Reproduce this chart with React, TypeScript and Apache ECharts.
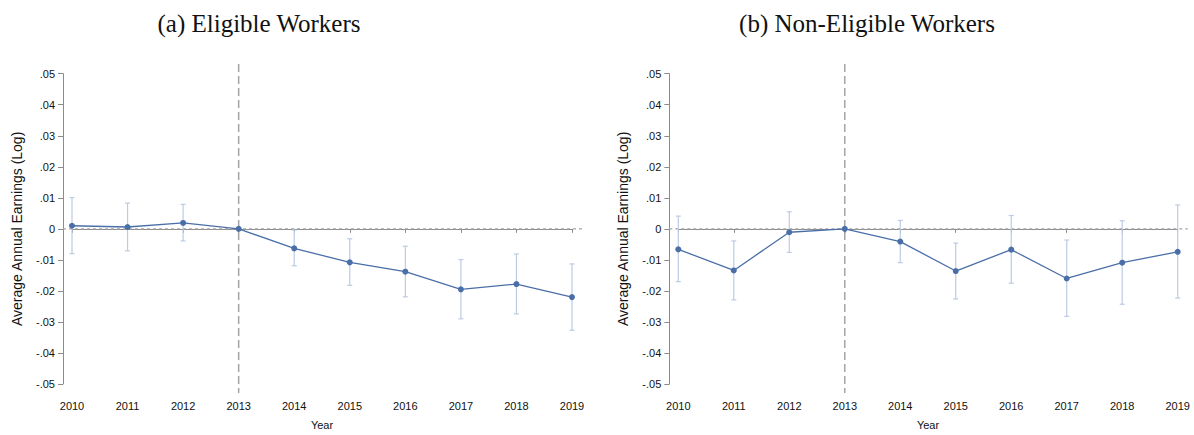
import React, { useEffect, useRef } from "react";
import * as echarts from "echarts";

// Event-study estimates, relative to 2013
const years = [2010, 2011, 2012, 2013, 2014, 2015, 2016, 2017, 2018, 2019];

const eligibleCoef = [0.001, 0.0006, 0.0019, 0, -0.0063, -0.0108, -0.0138, -0.0195, -0.0178, -0.022];
const eligibleLow = [-0.008, -0.0071, -0.0039, null, -0.0119, -0.0182, -0.0219, -0.029, -0.0274, -0.0327];
const eligibleHigh = [0.0101, 0.0083, 0.0079, null, -0.0004, -0.0032, -0.0056, -0.0099, -0.0081, -0.0113];

const nonEligibleCoef = [-0.0066, -0.0134, -0.0011, 0, -0.0041, -0.0136, -0.0067, -0.016, -0.0109, -0.0074];
const nonEligibleLow = [-0.017, -0.0229, -0.0076, null, -0.0109, -0.0226, -0.0175, -0.0282, -0.0243, -0.0223];
const nonEligibleHigh = [0.0041, -0.0039, 0.0055, null, 0.0027, -0.0046, 0.0043, -0.0036, 0.0026, 0.0077];

const panelTitles = ["(a) Eligible Workers", "(b) Non-Eligible Workers"];
const treatmentYear = 2013;
const yTitle = "Average Annual Earnings (Log)";
const xTitle = "Year";

const LINE_COLOR = "#4a6fa8";
const CI_COLOR = "#bccbe3";
const REF_COLOR = "#a4a4a4";
const AXIS_COLOR = "#8c8c8c";
const SANS = "'Liberation Sans', Arial, Helvetica, sans-serif";

function fmtY(v: number): string {
  if (Math.abs(v) < 1e-9) return "0";
  const s = v.toFixed(2);
  return s.replace("0.", ".");
}

export default function App() {
  const ref = useRef<HTMLDivElement>(null);

  useEffect(() => {
    if (!ref.current) return;
    const chart = echarts.init(ref.current, null, { renderer: "svg" });

    const grids = [
      { left: 72, top: 73.7, width: 500, height: 313.3 },
      { left: 678.3, top: 73.7, width: 499.4, height: 313.3 },
    ];

    const panels = [
      { coef: eligibleCoef, low: eligibleLow, high: eligibleHigh },
      { coef: nonEligibleCoef, low: nonEligibleLow, high: nonEligibleHigh },
    ];

    const xAxes = grids.map((_, i) => ({
      type: "value",
      gridIndex: i,
      min: 2010,
      max: 2019,
      interval: 1,
      offset: 9,
      name: xTitle,
      nameLocation: "middle",
      nameGap: 26,
      nameTextStyle: { fontFamily: SANS, fontSize: 11, color: "#111" },
      axisLine: { show: true, lineStyle: { color: AXIS_COLOR, width: 1 } },
      axisTick: { show: true, length: 4, lineStyle: { color: AXIS_COLOR } },
      axisLabel: { fontFamily: SANS, fontSize: 11, color: "#111", margin: 7, formatter: (v: number) => String(v) },
      splitLine: { show: false },
    }));

    const yAxes = grids.map((_, i) => ({
      type: "value",
      gridIndex: i,
      min: -0.05,
      max: 0.05,
      interval: 0.01,
      offset: 9,
      name: yTitle,
      nameLocation: "middle",
      nameRotate: 90,
      nameGap: 39,
      nameTextStyle: { fontFamily: SANS, fontSize: 14, color: "#111" },
      axisLine: { show: true, lineStyle: { color: AXIS_COLOR, width: 1 } },
      axisTick: { show: true, length: 5, lineStyle: { color: AXIS_COLOR } },
      axisLabel: { fontFamily: SANS, fontSize: 11, color: "#111", margin: 8, formatter: fmtY },
      splitLine: { show: false },
    }));

    const series: any[] = [];
    panels.forEach((p, i) => {
      // reference lines: zero line and treatment year
      series.push({
        type: "custom",
        xAxisIndex: i,
        yAxisIndex: i,
        silent: true,
        z: 1,
        data: [[treatmentYear, 0]],
        renderItem: (params: any, api: any) => {
          const pt = api.coord([api.value(0), api.value(1)]);
          const cs = params.coordSys;
          return {
            type: "group",
            children: [
              {
                type: "line",
                shape: { x1: cs.x - 9, y1: pt[1], x2: cs.x + cs.width + 10, y2: pt[1] },
                style: { stroke: REF_COLOR, lineWidth: 1.1, lineDash: [3, 3] },
              },
              {
                type: "line",
                shape: { x1: pt[0], y1: cs.y - 9.7, x2: pt[0], y2: cs.y + cs.height + 9 },
                style: { stroke: REF_COLOR, lineWidth: 1.5, lineDash: [8, 4] },
              },
            ],
          };
        },
      });
      // confidence intervals
      series.push({
        type: "custom",
        xAxisIndex: i,
        yAxisIndex: i,
        silent: true,
        z: 2,
        encode: { x: 0, y: [1, 2] },
        data: years
          .map((yr, k) => [yr, p.low[k], p.high[k]])
          .filter((d) => d[1] !== null),
        renderItem: (_params: any, api: any) => {
          const lo = api.coord([api.value(0), api.value(1)]);
          const hi = api.coord([api.value(0), api.value(2)]);
          const half = 2.5;
          const style = { stroke: CI_COLOR, lineWidth: 1.2 };
          return {
            type: "group",
            children: [
              { type: "line", shape: { x1: lo[0], y1: lo[1], x2: hi[0], y2: hi[1] }, style },
              { type: "line", shape: { x1: lo[0] - half, y1: lo[1], x2: lo[0] + half, y2: lo[1] }, style },
              { type: "line", shape: { x1: hi[0] - half, y1: hi[1], x2: hi[0] + half, y2: hi[1] }, style },
            ],
          };
        },
      });
      // point estimates
      series.push({
        type: "line",
        xAxisIndex: i,
        yAxisIndex: i,
        z: 3,
        data: years.map((yr, k) => [yr, p.coef[k]]),
        symbol: "circle",
        symbolSize: 6,
        itemStyle: { color: LINE_COLOR },
        lineStyle: { color: LINE_COLOR, width: 1.3 },
        silent: true,
      });
    });

    chart.setOption({
      animation: false,
      backgroundColor: "#ffffff",
      title: [
        {
          text: panelTitles[0],
          left: 254,
          top: 6,
          textAlign: "center",
          textStyle: { fontFamily: "'Liberation Serif', 'DejaVu Serif', serif", fontSize: 25, fontWeight: "normal", color: "#111" },
        },
        {
          text: panelTitles[1],
          left: 862,
          top: 6,
          textAlign: "center",
          textStyle: { fontFamily: "'Liberation Serif', 'DejaVu Serif', serif", fontSize: 25, fontWeight: "normal", color: "#111" },
        },
      ],
      grid: grids,
      xAxis: xAxes,
      yAxis: yAxes,
      series,
    });

    return () => chart.dispose();
  }, []);

  return <div ref={ref} style={{ width: 1194, height: 435, position: "absolute", left: 0, top: 0 }} />;
}
